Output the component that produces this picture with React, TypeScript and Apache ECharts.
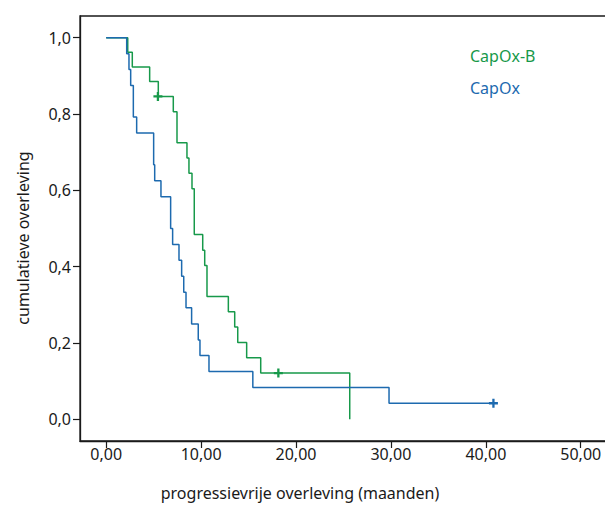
import React, { useEffect, useRef } from "react";
import * as echarts from "echarts";

// Kaplan-Meier curves (time in months, cumulative survival)
const seriesNames = ["CapOx-B", "CapOx"];

const capoxBTimes = [0, 2.27, 2.75, 4.58, 5.49, 7.07, 7.46, 8.51, 8.72, 9.04, 9.28, 10.17, 10.38, 10.62, 12.87, 13.54, 13.86, 14.8, 16.28, 25.66];
const capoxBSurv = [1, 0.962, 0.923, 0.885, 0.846, 0.806, 0.725, 0.685, 0.645, 0.604, 0.484, 0.443, 0.403, 0.322, 0.282, 0.242, 0.201, 0.161, 0.121, 0];
const capoxBCensorTimes = [5.45, 18.14];
const capoxBCensorSurv = [0.846, 0.121];

const capoxTimes = [0, 2.16, 2.4, 2.58, 2.86, 3.21, 5.0, 5.11, 5.77, 6.79, 7.0, 7.67, 7.95, 8.17, 8.41, 9.0, 9.7, 9.88, 10.83, 15.45, 29.8, 40.8];
const capoxSurv = [1, 0.958, 0.917, 0.875, 0.792, 0.75, 0.667, 0.625, 0.583, 0.5, 0.458, 0.417, 0.375, 0.333, 0.292, 0.25, 0.208, 0.167, 0.125, 0.083, 0.042, 0.042];
const capoxCensorTimes = [40.8];
const capoxCensorSurv = [0.042];

const xTicks = [0, 10, 20, 30, 40, 50];
const yTicks = [0, 0.2, 0.4, 0.6, 0.8, 1.0];

const xTitle = "progressievrije overleving (maanden)";
const yTitle = "cumulatieve overleving";

const GREEN = "#17994a";
const BLUE = "#1d6aaf";
const AXIS = "#1a1a1a";
const FONT = "Noto Sans";

const PLUS = "path://M3.35,0H5.65V3.35H9V5.65H5.65V9H3.35V5.65H0V3.35H3.35Z";

const zip = (a: number[], b: number[]) => a.map((v, i) => [v, b[i]]);
const comma = (v: number, d: number) => v.toFixed(d).replace(".", ",");

export default function App() {
  const ref = useRef<HTMLDivElement>(null);
  useEffect(() => {
    if (!ref.current) return;
    const chart = echarts.init(ref.current, null, { renderer: "svg" });
    chart.setOption({
      animation: false,
      backgroundColor: "#ffffff",
      textStyle: { fontFamily: FONT },
      grid: {
        left: 80,
        top: 16,
        bottom: 64,
        right: 11.8,
        show: true,
        borderColor: AXIS,
        borderWidth: 1.3,
        containLabel: false,
      },
      xAxis: {
        type: "value",
        min: -2.76,
        max: 55,
        splitLine: { show: false },
        axisLine: { show: true, onZero: false, lineStyle: { color: AXIS, width: 1.3 } },
        axisTick: { show: true, length: 7, customValues: xTicks, lineStyle: { color: AXIS, width: 1.2 } },
        axisLabel: {
          customValues: xTicks,
          margin: 5,
          color: "#1a1a1a",
          fontSize: 16,
          fontFamily: FONT,
          formatter: (v: number) => comma(v, 2),
        },
      },
      yAxis: {
        type: "value",
        min: -0.0569,
        max: 1.0569,
        splitLine: { show: false },
        axisLine: { show: true, onZero: false, lineStyle: { color: AXIS, width: 1.3 } },
        axisTick: { show: true, length: 7, customValues: yTicks, lineStyle: { color: AXIS, width: 1.2 } },
        axisLabel: {
          customValues: yTicks,
          margin: 9,
          color: "#1a1a1a",
          fontSize: 16,
          fontFamily: FONT,
          formatter: (v: number) => comma(v, 1),
        },
      },
      series: [
        {
          name: seriesNames[0],
          type: "line",
          step: "end",
          data: zip(capoxBTimes, capoxBSurv),
          showSymbol: false,
          lineStyle: { color: GREEN, width: 1.5 },
          z: 2,
        },
        {
          name: seriesNames[1],
          type: "line",
          step: "end",
          data: zip(capoxTimes, capoxSurv),
          showSymbol: false,
          lineStyle: { color: BLUE, width: 1.5 },
          z: 3,
        },
        {
          name: seriesNames[0] + " gecensureerd",
          type: "scatter",
          data: zip(capoxBCensorTimes, capoxBCensorSurv),
          symbol: PLUS,
          symbolSize: 9,
          itemStyle: { color: GREEN, opacity: 1 },
          z: 4,
        },
        {
          name: seriesNames[1] + " gecensureerd",
          type: "scatter",
          data: zip(capoxCensorTimes, capoxCensorSurv),
          symbol: PLUS,
          symbolSize: 9,
          itemStyle: { color: BLUE, opacity: 1 },
          z: 4,
        },
      ],
      graphic: [
        {
          type: "text",
          left: 470,
          top: 48,
          style: { text: seriesNames[0], fill: GREEN, font: `16px "${FONT}"` },
        },
        {
          type: "text",
          left: 470,
          top: 80,
          style: { text: seriesNames[1], fill: BLUE, font: `16px "${FONT}"` },
        },
        {
          type: "text",
          x: 300,
          y: 493,
          style: {
            text: xTitle,
            fill: "#1a1a1a",
            font: `16px "${FONT}"`,
            align: "center",
            verticalAlign: "middle",
          },
        },
        {
          type: "text",
          x: 23,
          y: 238,
          rotation: Math.PI / 2,
          style: {
            text: yTitle,
            fill: "#1a1a1a",
            font: `16px "${FONT}"`,
            align: "center",
            verticalAlign: "middle",
          },
        },
      ],
    });
    return () => chart.dispose();
  }, []);
  return (
    <div style={{ position: "absolute", left: 0, top: 0, width: 605, height: 505, overflow: "hidden" }}>
      <div ref={ref} style={{ width: 640, height: 505 }} />
    </div>
  );
}
